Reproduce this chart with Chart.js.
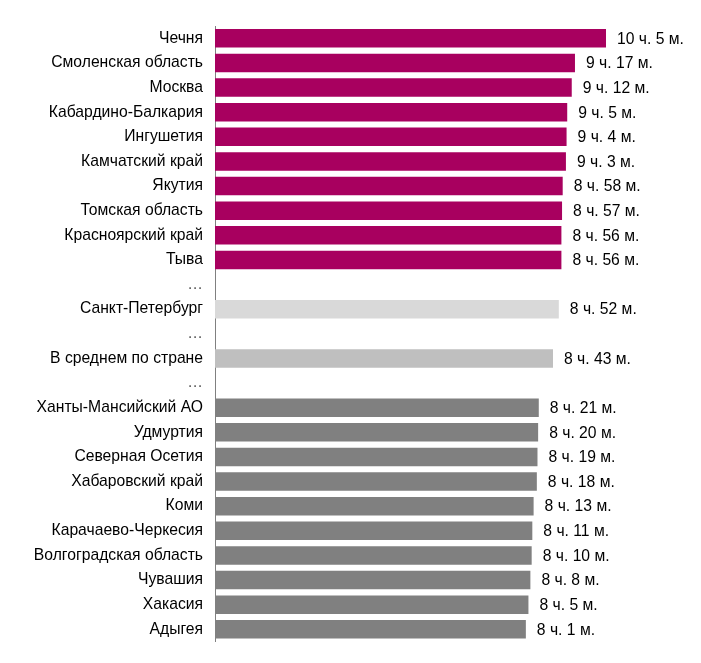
<!DOCTYPE html>
<html>
<head>
<meta charset="utf-8">
<script src="https://cdn.jsdelivr.net/npm/chart.js@4"></script>
<style>
  html, body { margin: 0; padding: 0; background: #fff; overflow: hidden; }
  canvas { display: block; }
</style>
</head>
<body>
<canvas id="chart" width="701" height="663"></canvas>
<script>
// regions, top to bottom
var regions = ['Чечня', 'Смоленская область', 'Москва', 'Кабардино-Балкария', 'Ингушетия',
  'Камчатский край', 'Якутия', 'Томская область', 'Красноярский край', 'Тыва',
  '…', 'Санкт-Петербург', '…', 'В среднем по стране', '…',
  'Ханты-Мансийский АО', 'Удмуртия', 'Северная Осетия', 'Хабаровский край', 'Коми',
  'Карачаево-Черкесия', 'Волгоградская область', 'Чувашия', 'Хакасия', 'Адыгея'];

// sleep time, minutes
var minutes = [605, 557, 552, 545, 544, 543, 538, 537, 536, 536,
  null, 532, null, 523, null,
  501, 500, 499, 498, 493, 491, 490, 488, 485, 481];

var groups = ['top', 'top', 'top', 'top', 'top', 'top', 'top', 'top', 'top', 'top',
  'gap', 'spb', 'gap', 'avg', 'gap',
  'low', 'low', 'low', 'low', 'low', 'low', 'low', 'low', 'low', 'low'];

var groupColors = { top: '#A8005F', spb: '#D9D9D9', avg: '#BFBFBF', low: '#808080', gap: '#fff' };

function fmt(m) {
  return Math.floor(m / 60) + ' ч. ' + (m % 60) + ' м.';
}

var valueLabels = {
  id: 'valueLabels',
  afterDatasetsDraw: function(chart) {
    var ctx = chart.ctx;
    var meta = chart.getDatasetMeta(0);
    ctx.save();
    ctx.font = '15.7px "Liberation Sans", Arial, sans-serif';
    ctx.fillStyle = '#000';
    ctx.textAlign = 'left';
    ctx.textBaseline = 'middle';
    meta.data.forEach(function(bar, i) {
      if (minutes[i] == null) return;
      ctx.fillText(fmt(minutes[i]), bar.x + 11, bar.y + 1);
    });
    ctx.restore();
  }
};

new Chart(document.getElementById('chart'), {
  type: 'bar',
  data: {
    labels: regions,
    datasets: [{
      data: minutes,
      backgroundColor: groups.map(function(g) { return groupColors[g]; }),
      borderWidth: 0,
      barPercentage: 0.75,
      categoryPercentage: 1
    }]
  },
  options: {
    indexAxis: 'y',
    responsive: false,
    animation: false,
    layout: { padding: { top: 26, bottom: 20, right: 0, left: 0 } },
    plugins: { legend: { display: false }, tooltip: { enabled: false } },
    scales: {
      x: {
        display: false,
        min: 0,
        max: 752
      },
      y: {
        afterFit: function(scale) { scale.width = 215; },
        grid: { display: false, drawTicks: false },
        border: { display: true, color: '#808080', width: 1 },
        ticks: {
          padding: 12,
          color: function(c) { return regions[c.index] === '…' ? '#555' : '#000'; },
          font: { family: '"Liberation Sans", Arial, sans-serif', size: 15.7 }
        }
      }
    }
  },
  plugins: [valueLabels]
});
</script>
</body>
</html>
